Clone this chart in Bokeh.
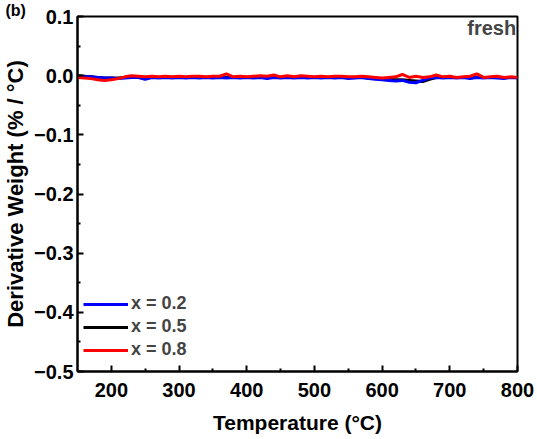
from bokeh.plotting import figure
from bokeh.models import Range1d, Legend, LegendItem, Label, FixedTicker
from bokeh.embed import file_html
from bokeh.resources import INLINE

temps = list(range(150, 801, 10))

dtg_x02 = [-0.001, -0.002, -0.002, -0.003, -0.004, -0.004, -0.005, -0.004, -0.003, -0.003,
           -0.006, -0.003, -0.004, -0.003, -0.004, -0.003, -0.004, -0.003, -0.004, -0.003,
           -0.004, -0.003, -0.004, -0.003, -0.004, -0.003, -0.004, -0.003, -0.005, -0.003,
           -0.004, -0.003, -0.004, -0.003, -0.004, -0.003, -0.004, -0.003, -0.004, -0.003,
           -0.005, -0.004, -0.003, -0.005, -0.006, -0.007, -0.008, -0.009, -0.008, -0.011,
           -0.012, -0.008, -0.004, -0.003, -0.004, -0.003, -0.004, -0.003, -0.005, -0.003,
           -0.004, -0.003, -0.004, -0.005, -0.003, -0.004]

dtg_x05 = [0.000, -0.001, -0.002, -0.003, -0.004, -0.004, -0.004, -0.003, -0.003, -0.003,
           -0.003, -0.003, -0.003, -0.003, -0.003, -0.003, -0.003, -0.003, -0.003, -0.003,
           -0.003, -0.003, -0.003, -0.003, -0.003, -0.003, -0.003, -0.003, -0.003, -0.003,
           -0.003, -0.003, -0.003, -0.003, -0.003, -0.003, -0.003, -0.003, -0.003, -0.003,
           -0.003, -0.003, -0.003, -0.004, -0.004, -0.005, -0.006, -0.007, -0.007, -0.008,
           -0.009, -0.010, -0.006, -0.003, -0.003, -0.003, -0.003, -0.003, -0.003, -0.003,
           -0.003, -0.003, -0.003, -0.003, -0.003, -0.003]

dtg_x08 = [-0.003, -0.004, -0.005, -0.007, -0.008, -0.007, -0.005, -0.002, 0.000, -0.001,
           -0.002, -0.001, -0.002, -0.001, -0.002, -0.001, -0.002, -0.001, -0.001, -0.002,
           -0.001, -0.001, 0.003, -0.002, -0.001, -0.002, -0.001, 0.000, -0.001, 0.001,
           -0.002, 0.000, -0.002, 0.000, -0.001, -0.002, -0.001, -0.002, -0.001, -0.001,
           -0.002, -0.002, -0.001, -0.002, -0.003, -0.004, -0.003, -0.002, 0.002, -0.003,
           -0.001, -0.003, -0.002, 0.001, -0.002, -0.001, -0.003, -0.002, -0.001, 0.003,
           -0.003, -0.002, -0.001, -0.003, -0.002, -0.003]

series_labels = ["x = 0.2", "x = 0.5", "x = 0.8"]
series_colors = ["#0000ff", "#000000", "#ff0000"]

x_ticks = [200, 300, 400, 500, 600, 700, 800]
x_minor = [250, 350, 450, 550, 650, 750]
y_ticks = [0.1, 0.0, -0.1, -0.2, -0.3, -0.4, -0.5]
y_minor = [0.05, -0.05, -0.15, -0.25, -0.35, -0.45]

FONT = "Liberation Sans"

p = figure(width=537, height=439, output_backend="svg", toolbar_location=None,
           x_range=Range1d(150, 800), y_range=Range1d(-0.5, 0.1),
           min_border_left=75, min_border_right=20, min_border_top=16, min_border_bottom=68)

p.title.text = "(b)"
p.title.align = "left"
p.title.offset = -72
p.title.standoff = -4
p.title.text_font = FONT
p.title.text_font_style = "bold"
p.title.text_font_size = "16px"
p.title.text_color = "black"

p.xgrid.visible = False
p.ygrid.visible = False
p.outline_line_color = "black"
p.outline_line_width = 2
p.outline_line_alpha = 1

series = [dtg_x02, dtg_x05, dtg_x08]
renderers = [None, None, None]
for i in (1, 0, 2):  # black underneath, then blue, red on top
    renderers[i] = p.line(temps, series[i], line_color=series_colors[i], line_width=3)

for ax in (p.xaxis[0], p.yaxis[0]):
    ax.axis_line_width = 2
    ax.axis_line_color = "black"
    ax.major_tick_in = 6
    ax.major_tick_out = 0
    ax.minor_tick_in = 3
    ax.minor_tick_out = 0
    ax.major_tick_line_width = 2
    ax.minor_tick_line_width = 2
    ax.major_label_text_font = FONT
    ax.major_label_text_font_style = "bold"
    ax.major_label_text_font_size = "20px"
    ax.major_label_text_color = "black"
    ax.axis_label_text_font = FONT
    ax.axis_label_text_font_style = "bold"
    ax.axis_label_text_color = "black"

p.xaxis[0].axis_label_text_font_size = "21px"
p.yaxis[0].axis_label_text_font_size = "22px"
p.xaxis[0].ticker = FixedTicker(ticks=x_ticks, minor_ticks=x_minor)
p.yaxis[0].ticker = FixedTicker(ticks=y_ticks, minor_ticks=y_minor)
p.yaxis[0].major_label_overrides = {0.0: "0.0"}
p.xaxis[0].axis_label = "Temperature (°C)"
p.yaxis[0].axis_label = "Derivative Weight (% / °C)"
p.xaxis[0].major_label_standoff = 11
p.xaxis[0].axis_label_standoff = 11
p.yaxis[0].major_label_standoff = 4
p.yaxis[0].axis_label_standoff = 3

legend = Legend(items=[LegendItem(label=l, renderers=[renderers[i]]) for i, l in enumerate(series_labels)],
                location=(6, 11), border_line_color=None, background_fill_alpha=0,
                padding=0, margin=0, spacing=2, glyph_width=45, glyph_height=20,
                label_height=20, label_standoff=3,
                label_text_font=FONT, label_text_font_style="bold", label_text_font_size="18px")
p.add_layout(legend)

p.add_layout(Label(x=798, y=0.080, text="fresh", text_align="right", text_baseline="alphabetic",
                   text_font=FONT, text_font_style="bold", text_font_size="20px"))

open("out.html", "w").write(file_html(p, INLINE))
